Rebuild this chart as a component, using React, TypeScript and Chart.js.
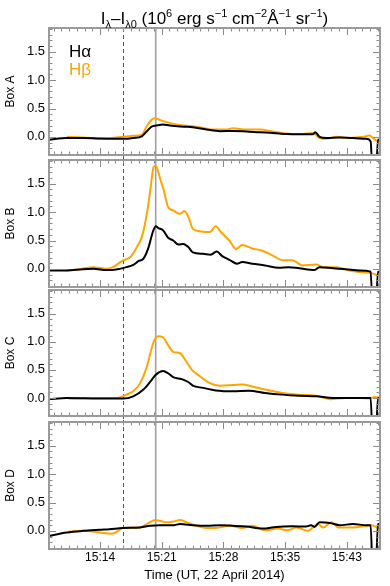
import React, { useEffect, useRef } from "react";
import { Chart, registerables } from "chart.js";

Chart.register(...registerables);

// ---------- axis definitions (minutes after 15:00 UT) ----------
const X_MIN = 8.0;
const X_MAX = 46.9;
const X_TICKS = [14, 21.25, 28.5, 35.75, 43];
const X_TICK_LABELS = ["15:14", "15:21", "15:28", "15:35", "15:43"];
const X_MINOR_DIV = 8;
const Y_MIN = -0.32;
const Y_MAX = 1.92;
const Y_TICKS = [0, 0.5, 1.0, 1.5];
const Y_MINOR_STEP = 0.1;
const PANEL_NAMES = ["Box A", "Box B", "Box C", "Box D"];
const SERIES_NAMES = ["Hα", "Hβ"];
const DASHED_T = 16.66;
const SOLID_T = 20.54;

// ---------- data ----------
const HA_A_T = [8.0, 10.1, 12.0, 14.0, 15.9, 16.7, 17.9, 18.9, 19.5, 20.05, 20.6, 21.4, 22.2, 23.8, 24.9, 26.5, 28.1, 29.6, 31.2, 32.8, 34.3, 35.9, 37.5, 39.0, 39.3, 39.8, 40.6, 42.2, 43.7, 45.3, 45.8, 46.1, 46.35, 46.65, 46.9];
const HA_A_V = [-0.05, -0.02, -0.02, -0.03, -0.035, -0.035, -0.02, 0.01, 0.1, 0.18, 0.2, 0.22, 0.2, 0.18, 0.17, 0.13, 0.1, 0.105, 0.095, 0.08, 0.07, 0.05, 0.045, 0.045, 0.08, 0, -0.02, -0.01, -0.02, -0.035, -0.08, -1.0, -1.0, -0.05, -0.05];
const HB_A_T = [10.1, 12.0, 14.0, 15.9, 17.9, 18.9, 19.5, 20.05, 20.45, 21.0, 21.8, 23.0, 24.5, 25.7, 27.2, 28.8, 29.6, 31.2, 32.8, 34.3, 35.9, 37.5, 39.0, 39.8, 40.6, 41.8, 43.3, 44.9, 45.7, 46.3, 46.9];
const HB_A_V = [0, -0.01, -0.035, -0.01, 0.02, 0.04, 0.19, 0.3, 0.33, 0.3, 0.26, 0.22, 0.19, 0.17, 0.13, 0.13, 0.15, 0.13, 0.13, 0.095, 0.06, 0.05, 0.07, -0.02, -0.035, 0, -0.02, 0, 0.025, -0.05, -0.1];

const HA_B_T = [8.0, 10.1, 12.0, 13.2, 14.8, 15.9, 17.1, 17.9, 18.5, 19.1, 19.7, 20.2, 20.55, 20.85, 21.4, 22.0, 22.6, 23.2, 23.8, 24.4, 24.9, 26.1, 27.0, 27.7, 28.4, 29.2, 30.1, 30.7, 31.9, 33.4, 35.0, 36.2, 37.4, 39.2, 39.8, 41.4, 42.9, 44.5, 45.8, 46.1, 46.35, 46.65, 46.9];
const HA_B_V = [-0.03, -0.03, -0.005, 0, -0.02, -0.01, 0.03, 0.07, 0.135, 0.18, 0.38, 0.65, 0.75, 0.72, 0.68, 0.55, 0.5, 0.43, 0.44, 0.38, 0.29, 0.265, 0.25, 0.305, 0.22, 0.16, 0.09, 0.12, 0.09, 0.06, 0.02, 0.03, 0.01, -0.02, 0.03, 0.01, -0.005, -0.03, -0.05, -1.0, -1.0, -0.05, -0.05];
const HB_B_T = [10.1, 11.6, 13.2, 14.8, 15.5, 16.7, 17.5, 18.3, 18.9, 19.5, 19.9, 20.3, 20.55, 21.0, 21.5, 22.0, 22.6, 23.4, 23.9, 24.4, 24.9, 25.7, 26.9, 27.6, 28.2, 29.2, 30.0, 30.7, 31.9, 33.1, 34.3, 35.5, 36.6, 37.8, 39.4, 40.2, 41.8, 43.3, 44.9, 45.9, 46.7];
const HB_B_V = [-0.03, -0.005, 0.03, 0, 0.03, 0.15, 0.2, 0.38, 0.56, 0.97, 1.38, 1.8, 1.82, 1.62, 1.38, 1.09, 1.03, 0.97, 1.02, 0.91, 0.705, 0.665, 0.65, 0.75, 0.65, 0.5, 0.35, 0.42, 0.36, 0.32, 0.235, 0.15, 0.15, 0.06, 0.075, 0.03, 0.03, -0.03, -0.06, -0.075, -0.12];

const HA_C_T = [8.0, 10.1, 14.0, 16.7, 17.9, 19.1, 19.9, 20.6, 21.4, 22.0, 22.6, 23.6, 24.4, 24.9, 26.1, 27.6, 29.6, 31.5, 33.4, 35.4, 37.4, 39.4, 41.4, 43.3, 45.8, 46.1, 46.35, 46.65, 46.9];
const HA_C_V = [-0.02, 0, -0.01, -0.01, 0.03, 0.15, 0.29, 0.42, 0.48, 0.44, 0.37, 0.335, 0.28, 0.22, 0.18, 0.135, 0.12, 0.13, 0.09, 0.06, 0.04, 0.03, 0, 0, 0, -1.0, -1.0, 0, 0];
const HB_C_T = [10.3, 13.6, 15.9, 17.1, 17.9, 18.7, 19.5, 20.3, 20.8, 21.4, 22.0, 22.6, 23.4, 24.0, 24.8, 25.7, 26.9, 28.1, 29.6, 30.7, 31.9, 33.4, 35.4, 37.4, 39.4, 41.0, 42.9, 44.5, 45.7, 46.3, 46.9];
const HB_C_V = [-0.01, 0, 0, 0.06, 0.12, 0.26, 0.56, 1.0, 1.1, 1.08, 0.94, 0.82, 0.795, 0.68, 0.5, 0.39, 0.265, 0.22, 0.23, 0.24, 0.205, 0.15, 0.09, 0.06, 0.04, -0.02, 0, 0, -0.01, 0.02, 0];

const HA_D_T = [8.0, 10.1, 12.0, 14.0, 15.1, 16.7, 18.7, 19.9, 21.0, 22.6, 23.4, 24.9, 26.5, 28.1, 29.6, 31.2, 33.1, 34.7, 36.6, 38.2, 38.8, 39.2, 39.8, 41.0, 42.2, 43.7, 45.3, 45.8, 46.1, 46.35, 46.65, 46.9];
const HA_D_V = [-0.09, -0.03, 0, 0.02, 0.03, 0.05, 0.06, 0.09, 0.1, 0.1, 0.12, 0.1, 0.09, 0.1, 0.09, 0.075, 0.04, 0.07, 0.08, 0.075, 0.1, 0.07, 0.15, 0.14, 0.1, 0.12, 0.1, 0.1, -1.0, -1.0, 0.12, 0.12];
const HB_D_T = [10.3, 12.0, 14.0, 15.4, 15.9, 16.7, 17.9, 18.7, 19.5, 20.45, 21.0, 21.8, 22.6, 23.4, 24.2, 25.3, 26.5, 27.6, 29.2, 30.7, 31.9, 33.4, 34.9, 36.0, 37.1, 38.4, 39.6, 40.2, 41.2, 42.0, 43.7, 45.3, 45.9, 46.9];
const HB_D_V = [-0.01, 0, -0.03, -0.05, -0.02, 0.05, 0.06, 0.06, 0.12, 0.19, 0.18, 0.15, 0.165, 0.19, 0.15, 0.09, 0.05, 0.05, 0.09, 0.05, 0.09, 0.01, 0.04, 0.01, 0.06, 0, 0.12, 0.06, 0.15, 0.06, 0.06, 0.09, 0.1, 0.03];

const PANEL_DATA = [
  [[HA_A_T, HA_A_V], [HB_A_T, HB_A_V]],
  [[HA_B_T, HA_B_V], [HB_B_T, HB_B_V]],
  [[HA_C_T, HA_C_V], [HB_C_T, HB_C_V]],
  [[HA_D_T, HA_D_V], [HB_D_T, HB_D_V]],
];

// ---------- styling ----------
const FONT = "'Liberation Sans', Arial, Helvetica, sans-serif";
const COLORS = ["#000000", "#FFA500"];
const FRAME_COLOR = "#9a9a9a";
const TICK_COLOR = "#8a8a8a";

// title: [text, 0=normal, -1=sub, 1=sup]
const TITLE_PARTS: [string, number][] = [
  ["I", 0], ["λ", -1], ["–I", 0], ["λ0", -1], [" (10", 0], ["6", 1],
  [" erg s", 0], ["−1", 1], [" cm", 0], ["−2", 1], ["Å", 0], ["−1", 1],
  [" sr", 0], ["−1", 1], [")", 0],
];

// canvas geometry per panel (stacked canvases, no gaps between them)
const PANELS = [
  { top: 0, height: 158, padTop: 28, padBottom: 3 },
  { top: 158, height: 130, padTop: 2, padBottom: 1 },
  { top: 288, height: 132, padTop: 2, padBottom: 4 },
  { top: 420, height: 166, padTop: 2, padBottom: 0 },
];
const X_AXIS_HEIGHT = 37;

function makeFramePlugin(i: number) {
  const first = i === 0;
  const last = i === PANELS.length - 1;
  return {
    id: "idlFrame",
    beforeDatasetsDraw(chart: any) {
      const { ctx, chartArea: a, scales, height } = chart;
      const x = scales.x;
      const y0 = first ? a.top : 0;
      const y1 = last ? a.bottom : height;
      ctx.save();
      const xd = Math.round(x.getPixelForValue(DASHED_T)) + 0.5;
      ctx.strokeStyle = "#555555";
      ctx.lineWidth = 1;
      ctx.setLineDash([4, 3]);
      ctx.lineDashOffset = -(PANELS[i].top % 7);
      ctx.beginPath();
      ctx.moveTo(xd, y0);
      ctx.lineTo(xd, y1);
      ctx.stroke();
      ctx.setLineDash([]);
      const xs = x.getPixelForValue(SOLID_T);
      ctx.strokeStyle = "#a0a0a0";
      ctx.lineWidth = 1.6;
      ctx.beginPath();
      ctx.moveTo(xs, y0);
      ctx.lineTo(xs, y1);
      ctx.stroke();
      ctx.restore();
    },
    afterDraw(chart: any) {
      const { ctx, chartArea: a, scales } = chart;
      const x = scales.x;
      const y = scales.y;
      ctx.save();
      ctx.strokeStyle = TICK_COLOR;
      ctx.lineWidth = 1;
      const step = (X_TICKS[1] - X_TICKS[0]) / X_MINOR_DIV;
      const start = X_TICKS[0] - Math.floor((X_TICKS[0] - X_MIN) / step) * step;
      for (let t = start; t <= X_MAX + 1e-6; t += step) {
        const idx = Math.round((t - X_TICKS[0]) / step);
        const major = idx % X_MINOR_DIV === 0;
        const len = major ? 7 : 3.5;
        const px = Math.round(x.getPixelForValue(t)) + 0.5;
        ctx.beginPath();
        ctx.moveTo(px, a.bottom);
        ctx.lineTo(px, a.bottom - len);
        ctx.moveTo(px, a.top);
        ctx.lineTo(px, a.top + len);
        ctx.stroke();
      }
      for (let v = -0.3; v <= Y_MAX + 1e-6; v += Y_MINOR_STEP) {
        const r = Math.round(v * 10) / 10;
        const major = Math.abs(r * 2 - Math.round(r * 2)) < 1e-6;
        const len = major ? 7 : 3.5;
        const py = Math.round(y.getPixelForValue(r)) + 0.5;
        ctx.beginPath();
        ctx.moveTo(a.left, py);
        ctx.lineTo(a.left + len, py);
        ctx.moveTo(a.right, py);
        ctx.lineTo(a.right - len, py);
        ctx.stroke();
      }
      ctx.strokeStyle = FRAME_COLOR;
      ctx.lineWidth = 2;
      ctx.strokeRect(a.left, a.top, a.right - a.left, a.bottom - a.top);
      ctx.restore();
    },
  };
}

const headerPlugin = {
  id: "header",
  afterDraw(chart: any) {
    const { ctx, chartArea: a } = chart;
    ctx.save();
    ctx.fillStyle = "#000";
    ctx.textBaseline = "alphabetic";
    const big = `17px ${FONT}`;
    const small = `11px ${FONT}`;
    let total = 0;
    for (const [txt, mode] of TITLE_PARTS) {
      ctx.font = mode === 0 ? big : small;
      total += ctx.measureText(txt).width;
    }
    let cx = (a.left + a.right) / 2 - total / 2;
    const base = 24;
    for (const [txt, mode] of TITLE_PARTS) {
      ctx.font = mode === 0 ? big : small;
      const dy = mode === 1 ? -7 : mode === -1 ? 4 : 0;
      ctx.fillText(txt, cx, base + dy);
      cx += ctx.measureText(txt).width;
    }
    ctx.font = big;
    ctx.fillStyle = COLORS[0];
    ctx.fillText(SERIES_NAMES[0], a.left + 20, a.top + 29);
    ctx.fillStyle = COLORS[1];
    ctx.fillText(SERIES_NAMES[1], a.left + 20, a.top + 47);
    ctx.restore();
  },
};

function makeConfig(i: number): any {
  const p = PANELS[i];
  const isLast = i === PANELS.length - 1;
  const datasets = PANEL_DATA[i].map(([ts, vs], s) => ({
    label: SERIES_NAMES[s],
    data: ts.map((t, k) => ({ x: t, y: vs[k] })),
    borderColor: COLORS[s],
    borderWidth: 2,
    pointRadius: 0,
    fill: false,
    cubicInterpolationMode: "monotone",
  }));
  const frame = makeFramePlugin(i);
  return {
    type: "line",
    data: { datasets },
    plugins: i === 0 ? [frame, headerPlugin] : [frame],
    options: {
      animation: false,
      responsive: false,
      events: [],
      layout: { padding: { left: 0, right: 10, top: p.padTop, bottom: p.padBottom } },
      plugins: { legend: { display: false }, title: { display: false }, tooltip: { enabled: false } },
      scales: {
        x: {
          type: "linear",
          min: X_MIN,
          max: X_MAX,
          display: isLast,
          afterBuildTicks: (s: any) => {
            s.ticks = X_TICKS.map((v) => ({ value: v }));
          },
          afterFit: (s: any) => {
            s.height = isLast ? X_AXIS_HEIGHT : 0;
            s.paddingLeft = 0;
            s.paddingRight = 0;
          },
          grid: { display: false, drawTicks: false },
          border: { display: false },
          ticks: {
            autoSkip: false,
            maxRotation: 0,
            padding: 1,
            color: "#000",
            font: { family: FONT, size: 12 },
            callback: (_v: any, idx: number) => X_TICK_LABELS[idx],
          },
          title: {
            display: true,
            text: "Time (UT, 22 April 2014)",
            color: "#000",
            font: { family: FONT, size: 13 },
            padding: { top: 0, bottom: 3 },
          },
        },
        y: {
          min: Y_MIN,
          max: Y_MAX,
          afterBuildTicks: (s: any) => {
            s.ticks = Y_TICKS.map((v) => ({ value: v }));
          },
          afterFit: (s: any) => {
            s.width = 49;
            s.paddingTop = 0;
            s.paddingBottom = 0;
          },
          grid: { display: false, drawTicks: false },
          border: { display: false },
          ticks: {
            padding: 4,
            color: "#000",
            font: { family: FONT, size: 13 },
            callback: (v: any) => Number(v).toFixed(1),
          },
          title: {
            display: true,
            text: PANEL_NAMES[i],
            color: "#000",
            font: { family: FONT, size: 12 },
            padding: { top: 3, bottom: 0 },
          },
        },
      },
    },
  };
}

export default function App() {
  const r0 = useRef<HTMLCanvasElement>(null);
  const r1 = useRef<HTMLCanvasElement>(null);
  const r2 = useRef<HTMLCanvasElement>(null);
  const r3 = useRef<HTMLCanvasElement>(null);
  const refs = [r0, r1, r2, r3];

  useEffect(() => {
    document.body.style.margin = "0";
    const charts = refs.map((r, i) => new Chart(r.current as HTMLCanvasElement, makeConfig(i)));
    return () => charts.forEach((c) => c.destroy());
  }, []);

  return (
    <div style={{ position: "relative", width: 390, height: 586, background: "#fff" }}>
      {PANELS.map((p, i) => (
        <canvas
          key={i}
          ref={refs[i]}
          width={390}
          height={p.height}
          style={{ position: "absolute", left: 0, top: p.top, width: 390, height: p.height }}
        />
      ))}
    </div>
  );
}
